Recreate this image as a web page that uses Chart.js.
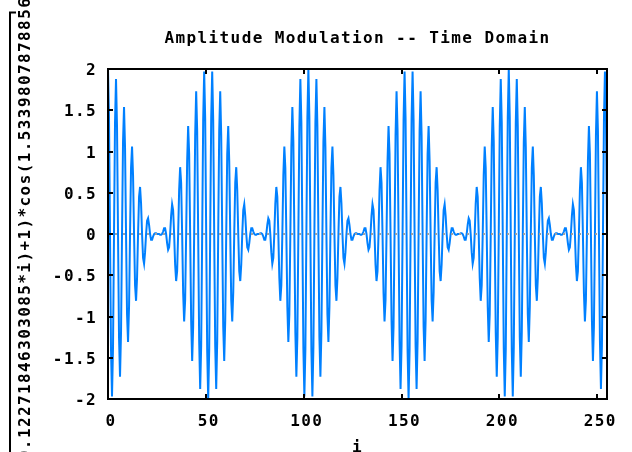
<!DOCTYPE html>
<html>
<head>
<meta charset="utf-8">
<script src="https://cdn.jsdelivr.net/npm/chart.js@4/dist/chart.umd.min.js"></script>
<style>
  html, body { margin: 0; padding: 0; background: #fff; }
  #chart { display: block; }
</style>
</head>
<body>
<canvas id="chart" width="632" height="452"></canvas>
<script>
// sample positions (i) along the x axis
var sampleI = [
  0, 0.512, 1.024, 1.536, 2.048, 2.56, 3.072, 3.584, 4.096, 4.608,
  5.12, 5.632, 6.144, 6.656, 7.168, 7.68, 8.192, 8.704, 9.216, 9.728,
  10.24, 10.752, 11.264, 11.776, 12.288, 12.8, 13.312, 13.824, 14.336, 14.848,
  15.36, 15.872, 16.384, 16.896, 17.408, 17.92, 18.432, 18.944, 19.456, 19.968,
  20.48, 20.992, 21.504, 22.016, 22.528, 23.04, 23.552, 24.064, 24.576, 25.088,
  25.6, 26.112, 26.624, 27.136, 27.648, 28.16, 28.672, 29.184, 29.696, 30.208,
  30.72, 31.232, 31.744, 32.256, 32.768, 33.28, 33.792, 34.304, 34.816, 35.328,
  35.84, 36.352, 36.864, 37.376, 37.888, 38.4, 38.912, 39.424, 39.936, 40.448,
  40.96, 41.472, 41.984, 42.496, 43.008, 43.52, 44.032, 44.544, 45.056, 45.568,
  46.08, 46.592, 47.104, 47.616, 48.128, 48.64, 49.152, 49.664, 50.176, 50.688,
  51.2, 51.712, 52.224, 52.736, 53.248, 53.76, 54.272, 54.784, 55.296, 55.808,
  56.32, 56.832, 57.344, 57.856, 58.368, 58.88, 59.392, 59.904, 60.416, 60.928,
  61.44, 61.952, 62.464, 62.976, 63.488, 64, 64.512, 65.024, 65.536, 66.048,
  66.56, 67.072, 67.584, 68.096, 68.608, 69.12, 69.632, 70.144, 70.656, 71.168,
  71.68, 72.192, 72.704, 73.216, 73.728, 74.24, 74.752, 75.264, 75.776, 76.288,
  76.8, 77.312, 77.824, 78.336, 78.848, 79.36, 79.872, 80.384, 80.896, 81.408,
  81.92, 82.432, 82.944, 83.456, 83.968, 84.48, 84.992, 85.504, 86.016, 86.528,
  87.04, 87.552, 88.064, 88.576, 89.088, 89.6, 90.112, 90.624, 91.136, 91.648,
  92.16, 92.672, 93.184, 93.696, 94.208, 94.72, 95.232, 95.744, 96.256, 96.768,
  97.28, 97.792, 98.304, 98.816, 99.328, 99.84, 100.352, 100.864, 101.376, 101.888,
  102.4, 102.912, 103.424, 103.936, 104.448, 104.96, 105.472, 105.984, 106.496, 107.008,
  107.52, 108.032, 108.544, 109.056, 109.568, 110.08, 110.592, 111.104, 111.616, 112.128,
  112.64, 113.152, 113.664, 114.176, 114.688, 115.2, 115.712, 116.224, 116.736, 117.248,
  117.76, 118.272, 118.784, 119.296, 119.808, 120.32, 120.832, 121.344, 121.856, 122.368,
  122.88, 123.392, 123.904, 124.416, 124.928, 125.44, 125.952, 126.464, 126.976, 127.488,
  128, 128.512, 129.024, 129.536, 130.048, 130.56, 131.072, 131.584, 132.096, 132.608,
  133.12, 133.632, 134.144, 134.656, 135.168, 135.68, 136.192, 136.704, 137.216, 137.728,
  138.24, 138.752, 139.264, 139.776, 140.288, 140.8, 141.312, 141.824, 142.336, 142.848,
  143.36, 143.872, 144.384, 144.896, 145.408, 145.92, 146.432, 146.944, 147.456, 147.968,
  148.48, 148.992, 149.504, 150.016, 150.528, 151.04, 151.552, 152.064, 152.576, 153.088,
  153.6, 154.112, 154.624, 155.136, 155.648, 156.16, 156.672, 157.184, 157.696, 158.208,
  158.72, 159.232, 159.744, 160.256, 160.768, 161.28, 161.792, 162.304, 162.816, 163.328,
  163.84, 164.352, 164.864, 165.376, 165.888, 166.4, 166.912, 167.424, 167.936, 168.448,
  168.96, 169.472, 169.984, 170.496, 171.008, 171.52, 172.032, 172.544, 173.056, 173.568,
  174.08, 174.592, 175.104, 175.616, 176.128, 176.64, 177.152, 177.664, 178.176, 178.688,
  179.2, 179.712, 180.224, 180.736, 181.248, 181.76, 182.272, 182.784, 183.296, 183.808,
  184.32, 184.832, 185.344, 185.856, 186.368, 186.88, 187.392, 187.904, 188.416, 188.928,
  189.44, 189.952, 190.464, 190.976, 191.488, 192, 192.512, 193.024, 193.536, 194.048,
  194.56, 195.072, 195.584, 196.096, 196.608, 197.12, 197.632, 198.144, 198.656, 199.168,
  199.68, 200.192, 200.704, 201.216, 201.728, 202.24, 202.752, 203.264, 203.776, 204.288,
  204.8, 205.312, 205.824, 206.336, 206.848, 207.36, 207.872, 208.384, 208.896, 209.408,
  209.92, 210.432, 210.944, 211.456, 211.968, 212.48, 212.992, 213.504, 214.016, 214.528,
  215.04, 215.552, 216.064, 216.576, 217.088, 217.6, 218.112, 218.624, 219.136, 219.648,
  220.16, 220.672, 221.184, 221.696, 222.208, 222.72, 223.232, 223.744, 224.256, 224.768,
  225.28, 225.792, 226.304, 226.816, 227.328, 227.84, 228.352, 228.864, 229.376, 229.888,
  230.4, 230.912, 231.424, 231.936, 232.448, 232.96, 233.472, 233.984, 234.496, 235.008,
  235.52, 236.032, 236.544, 237.056, 237.568, 238.08, 238.592, 239.104, 239.616, 240.128,
  240.64, 241.152, 241.664, 242.176, 242.688, 243.2, 243.712, 244.224, 244.736, 245.248,
  245.76, 246.272, 246.784, 247.296, 247.808, 248.32, 248.832, 249.344, 249.856, 250.368,
  250.88, 251.392, 251.904, 252.416, 252.928, 253.44, 253.952, 254.464, 254.976
];

// signal value at each sample
var amplitude = [
  2.00, 1.41, 0, -1.40, -1.97, -1.38, 0, 1.35, 1.88, 1.30,
  0, -1.25, -1.73, -1.19, 0, 1.12, 1.54, 1.05, 0, -0.97,
  -1.31, -0.88, 0, 0.80, 1.06, 0.71, 0, -0.62, -0.81, -0.53,
  0, 0.45, 0.57, 0.37, 0, -0.29, -0.36, -0.22, 0, 0.16,
  0.19, 0.11, 0, -0.07, -0.07, -0.03, 0, 0.01, 0.01, 0,
  0, 0, -0.01, -0.01, 0, 0.03, 0.07, 0.07, 0, -0.11,
  -0.19, -0.16, 0, 0.22, 0.36, 0.29, 0, -0.37, -0.57, -0.45,
  0, 0.53, 0.81, 0.62, 0, -0.71, -1.06, -0.80, 0, 0.88,
  1.31, 0.97, 0, -1.05, -1.54, -1.12, 0, 1.19, 1.73, 1.25,
  0, -1.30, -1.88, -1.35, 0, 1.38, 1.97, 1.40, 0, -1.41,

  -2.00, -1.41, 0, 1.40, 1.97, 1.38, 0, -1.35, -1.88, -1.30,
  0, 1.25, 1.73, 1.19, 0, -1.12, -1.54, -1.05, 0, 0.97,
  1.31, 0.88, 0, -0.80, -1.06, -0.71, 0, 0.62, 0.81, 0.53,
  0, -0.45, -0.57, -0.37, 0, 0.29, 0.36, 0.22, 0, -0.16,
  -0.19, -0.11, 0, 0.07, 0.07, 0.03, 0, -0.01, -0.01, 0,
  0, 0, 0.01, 0.01, 0, -0.03, -0.07, -0.07, 0, 0.11,
  0.19, 0.16, 0, -0.22, -0.36, -0.29, 0, 0.37, 0.57, 0.45,
  0, -0.53, -0.81, -0.62, 0, 0.71, 1.06, 0.80, 0, -0.88,
  -1.31, -0.97, 0, 1.05, 1.54, 1.12, 0, -1.19, -1.73, -1.25,
  0, 1.30, 1.88, 1.35, 0, -1.38, -1.97, -1.40, 0, 1.41,

  2.00, 1.41, 0, -1.40, -1.97, -1.38, 0, 1.35, 1.88, 1.30,
  0, -1.25, -1.73, -1.19, 0, 1.12, 1.54, 1.05, 0, -0.97,
  -1.31, -0.88, 0, 0.80, 1.06, 0.71, 0, -0.62, -0.81, -0.53,
  0, 0.45, 0.57, 0.37, 0, -0.29, -0.36, -0.22, 0, 0.16,
  0.19, 0.11, 0, -0.07, -0.07, -0.03, 0, 0.01, 0.01, 0,
  0, 0, -0.01, -0.01, 0, 0.03, 0.07, 0.07, 0, -0.11,
  -0.19, -0.16, 0, 0.22, 0.36, 0.29, 0, -0.37, -0.57, -0.45,
  0, 0.53, 0.81, 0.62, 0, -0.71, -1.06, -0.80, 0, 0.88,
  1.31, 0.97, 0, -1.05, -1.54, -1.12, 0, 1.19, 1.73, 1.25,
  0, -1.30, -1.88, -1.35, 0, 1.38, 1.97, 1.40, 0, -1.41,

  -2.00, -1.41, 0, 1.40, 1.97, 1.38, 0, -1.35, -1.88, -1.30,
  0, 1.25, 1.73, 1.19, 0, -1.12, -1.54, -1.05, 0, 0.97,
  1.31, 0.88, 0, -0.80, -1.06, -0.71, 0, 0.62, 0.81, 0.53,
  0, -0.45, -0.57, -0.37, 0, 0.29, 0.36, 0.22, 0, -0.16,
  -0.19, -0.11, 0, 0.07, 0.07, 0.03, 0, -0.01, -0.01, 0,
  0, 0, 0.01, 0.01, 0, -0.03, -0.07, -0.07, 0, 0.11,
  0.19, 0.16, 0, -0.22, -0.36, -0.29, 0, 0.37, 0.57, 0.45,
  0, -0.53, -0.81, -0.62, 0, 0.71, 1.06, 0.80, 0, -0.88,
  -1.31, -0.97, 0, 1.05, 1.54, 1.12, 0, -1.19, -1.73, -1.25,
  0, 1.30, 1.88, 1.35, 0, -1.38, -1.97, -1.40, 0, 1.41,

  2.00, 1.41, 0, -1.40, -1.97, -1.38, 0, 1.35, 1.88, 1.30,
  0, -1.25, -1.73, -1.19, 0, 1.12, 1.54, 1.05, 0, -0.97,
  -1.31, -0.88, 0, 0.80, 1.06, 0.71, 0, -0.62, -0.81, -0.53,
  0, 0.45, 0.57, 0.37, 0, -0.29, -0.36, -0.22, 0, 0.16,
  0.19, 0.11, 0, -0.07, -0.07, -0.03, 0, 0.01, 0.01, 0,
  0, 0, -0.01, -0.01, 0, 0.03, 0.07, 0.07, 0, -0.11,
  -0.19, -0.16, 0, 0.22, 0.36, 0.29, 0, -0.37, -0.57, -0.45,
  0, 0.53, 0.81, 0.62, 0, -0.71, -1.06, -0.80, 0, 0.88,
  1.31, 0.97, 0, -1.05, -1.54, -1.12, 0, 1.19, 1.73, 1.25,
  0, -1.30, -1.88, -1.35, 0, 1.38, 1.97, 1.40, 0
];

var xTicks = [0, 50, 100, 150, 200, 250];
var yTicks = [-2, -1.5, -1, -0.5, 0, 0.5, 1, 1.5, 2];

var FONT = 'DejaVu Sans Mono';
var SPACING = '1.4px';

var points = [];
for (var k = 0; k < sampleI.length; k++) {
  points.push({x: sampleI[k], y: amplitude[k]});
}

function tickList(values) {
  return values.map(function (v) { return {value: v}; });
}

var frame = {
  id: 'frame',
  beforeLayout: function (chart) { chart.ctx.letterSpacing = SPACING; },
  beforeDraw: function (chart) { chart.ctx.letterSpacing = SPACING; },
  afterDraw: function (chart) {
    var ctx = chart.ctx;
    var a = chart.chartArea;
    var xs = chart.scales.x;
    var ys = chart.scales.y;
    var len = 5;
    ctx.save();
    ctx.strokeStyle = '#000';
    ctx.lineWidth = 2;
    ctx.beginPath();
    xs.ticks.forEach(function (t) {
      var px = Math.round(xs.getPixelForValue(t.value));
      ctx.moveTo(px, a.bottom); ctx.lineTo(px, a.bottom - len);
      ctx.moveTo(px, a.top); ctx.lineTo(px, a.top + len);
    });
    ys.ticks.forEach(function (t) {
      var py = Math.round(ys.getPixelForValue(t.value));
      ctx.moveTo(a.left, py); ctx.lineTo(a.left + len, py);
      ctx.moveTo(a.right, py); ctx.lineTo(a.right - len, py);
    });
    ctx.stroke();
    ctx.strokeRect(a.left, a.top, a.right - a.left, a.bottom - a.top);
    ctx.beginPath();
    ctx.moveTo(16, 12.5);
    ctx.lineTo(10, 12.5);
    ctx.lineTo(10, 452);
    ctx.stroke();
    ctx.restore();
  }
};

var font = {family: FONT, size: 16, weight: 'bold', lineHeight: '20px'};

new Chart(document.getElementById('chart'), {
  type: 'line',
  data: {
    datasets: [{
      data: points,
      borderColor: '#0080ff',
      borderWidth: 2,
      pointRadius: 0,
      tension: 0,
      fill: false
    }]
  },
  options: {
    responsive: false,
    animation: false,
    events: [],
    layout: {padding: {left: 0, right: 25, top: 0, bottom: 0}},
    plugins: {
      legend: {display: false},
      tooltip: {enabled: false},
      title: {
        display: true,
        text: 'Amplitude Modulation -- Time Domain',
        color: '#000',
        font: font,
        fullSize: false,
        padding: {top: 29, bottom: 20}
      }
    },
    scales: {
      x: {
        type: 'linear',
        min: 0,
        max: 255,
        afterBuildTicks: function (scale) { scale.ticks = tickList(xTicks); },
        afterFit: function (scale) { scale.height = 53; },
        grid: {display: false, drawTicks: false},
        border: {display: false},
        ticks: {
          color: '#000',
          font: font,
          padding: 13,
          labelOffset: 3,
          maxRotation: 0,
          callback: function (v) { return String(v); }
        },
        title: {
          display: true,
          text: 'i',
          color: '#000',
          font: font,
          padding: {top: 0, bottom: -6}
        }
      },
      y: {
        type: 'linear',
        min: -2,
        max: 2,
        afterBuildTicks: function (scale) { scale.ticks = tickList(yTicks); },
        afterFit: function (scale) { scale.width = 108; },
        grid: {
          drawTicks: false,
          lineWidth: 2,
          z: 1,
          color: function (c) {
            return c.tick && c.tick.value === 0 ? '#a0a0a0' : 'rgba(0,0,0,0)';
          }
        },
        border: {display: false, dash: [2, 6], dashOffset: 1},
        ticks: {
          color: '#000',
          font: font,
          padding: 11,
          labelOffset: 2,
          callback: function (v) { return String(v); }
        },
        title: {
          display: true,
          text: '(cos(0.12271846303085*i)+1)*cos(1.53398078788564*i)',
          color: '#000',
          font: font,
          padding: {top: 16, bottom: 0}
        }
      }
    }
  },
  plugins: [frame]
});
</script>
</body>
</html>
